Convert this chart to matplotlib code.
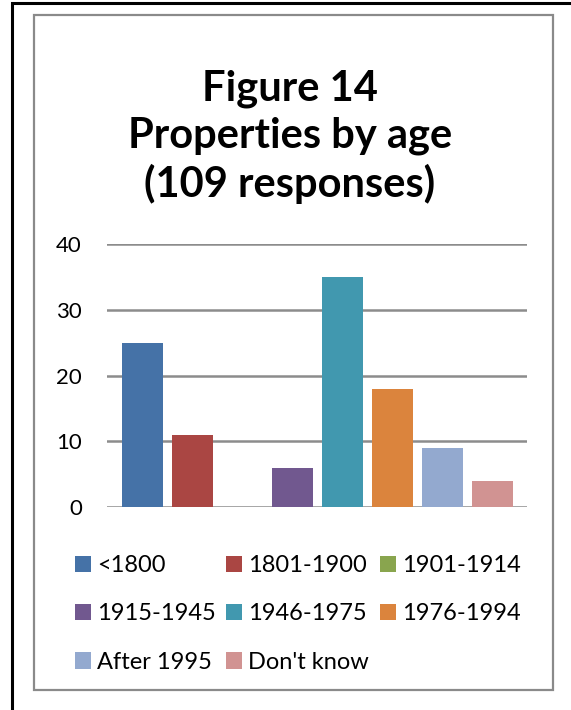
import matplotlib
matplotlib.use("Agg")
import matplotlib.pyplot as plt
from matplotlib.patches import Rectangle, Patch

categories = ["<1800", "1801-1900", "1901-1914", "1915-1945", "1946-1975",
              "1976-1994", "After 1995", "Don't know"]
values = [25, 11, 0, 6, 35, 18, 9, 4]
colors = ["#4572A7", "#AA4643", "#89A54E", "#71588F", "#4198AF",
          "#DB843D", "#93A9CF", "#D19392"]
yticks = [0, 10, 20, 30, 40]
title = "Figure 14\nProperties by age\n(109 responses)"

plt.rcParams['font.family'] = ['Lato', 'DejaVu Sans']

W, H = 571, 710
fig = plt.figure(figsize=(W/100, H/100), dpi=100)

def fx(px): return px / W
def fy(py): return 1 - py / H

# outer border (black), extends past right/bottom edges
fig.patches.append(Rectangle((fx(12), fy(800)), fx(700), fy(3) - fy(800),
                             transform=fig.transFigure, fill=False,
                             edgecolor="black", lw=2.2))
# inner chart border (gray)
fig.patches.append(Rectangle((fx(34), fy(690)), fx(553) - fx(34), fy(15) - fy(690),
                             transform=fig.transFigure, fill=False,
                             edgecolor="#8a8a8a", lw=1.6))

ax = fig.add_axes([fx(107), fy(507), fx(527) - fx(107), fy(244) - fy(507)])
x = list(range(len(categories)))
bars = ax.bar(x, values, width=0.82, color=colors, zorder=3)
ax.set_xlim(-0.72, 7.7)
ax.set_ylim(0, 40)
ax.set_yticks(yticks)
ax.set_yticklabels([str(v) for v in yticks], fontsize=16)
ax.set_xticks([])
for s in ax.spines.values():
    s.set_visible(False)
ax.tick_params(axis='y', length=0, pad=18)
for v in yticks:
    ax.axhline(v, color="#8c8c8c", lw=1.8, zorder=2)

fig.text(fx(290), fy(137), title, ha="center", va="center", fontsize=30,
         fontweight="bold", linespacing=1.27)

handles = [Patch(facecolor=c, edgecolor="none") for c in colors]
order = [0, 3, 6, 1, 4, 7, 2, 5]
leg = fig.legend([handles[i] for i in order], [categories[i] for i in order],
                 ncol=3, loc="upper left", bbox_to_anchor=(fx(75), fy(555)),
                 frameon=False, fontsize=17, handlelength=0.68, handleheight=0.68,
                 handletextpad=0.25, columnspacing=0.45, labelspacing=1.16,
                 borderaxespad=0, borderpad=0)

fig.savefig("out.png", dpi=100)
